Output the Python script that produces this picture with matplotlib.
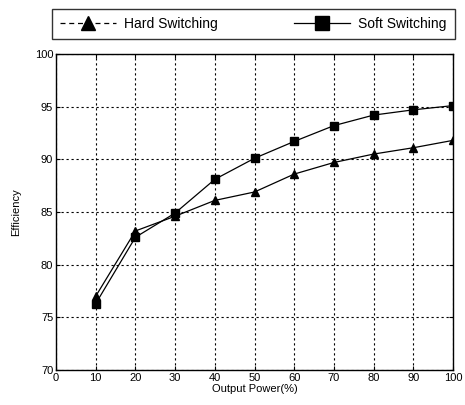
import matplotlib
matplotlib.use("Agg")
import matplotlib.pyplot as plt
from matplotlib.lines import Line2D

plt.rcParams['font.family'] = ['Liberation Sans', 'DejaVu Sans']

power = [10, 20, 30, 40, 50, 60, 70, 80, 90, 100]
hard = [77.0, 83.2, 84.6, 86.1, 86.9, 88.6, 89.7, 90.5, 91.1, 91.8]
soft = [76.3, 82.6, 84.9, 88.1, 90.1, 91.7, 93.2, 94.2, 94.7, 95.1]
xticks = [0, 10, 20, 30, 40, 50, 60, 70, 80, 90, 100]
yticks = [70, 75, 80, 85, 90, 95, 100]

fig = plt.figure(figsize=(4.65, 4.05), dpi=100)
ax = fig.add_axes([56/465, 1 - 370/405, (453-56)/465, (370-54)/405])

ax.plot(power, hard, color='black', lw=0.9, marker='^', markersize=6, zorder=3)
ax.plot(power, soft, color='black', lw=0.9, marker='s', markersize=5.5, zorder=3)

ax.set_xlim(0, 100)
ax.set_ylim(70, 100)
ax.set_xticks(xticks)
ax.set_yticks(yticks)
ax.tick_params(direction='in', top=True, right=True, labelsize=8, length=3, width=0.8, pad=2)
ax.grid(True, color='black', linestyle=(0, (2, 2.5)), linewidth=0.8)
for s in ax.spines.values():
    s.set_linewidth(1.0)
ax.set_xlabel('Output Power(%)', fontsize=8, labelpad=1)
ax.set_ylabel('Efficiency', fontsize=8, labelpad=10)

handles = [
    Line2D([], [], color='black', lw=0.9, linestyle=(0, (4, 3)), marker='^', markersize=10),
    Line2D([], [], color='black', lw=0.9, linestyle='-', marker='s', markersize=10),
]
leg = fig.legend(handles, ['Hard Switching', 'Soft Switching'], ncol=2,
                 loc='center', bbox_to_anchor=(52/465, 1 - 42/405, (455-52)/465, 36/405),
                 mode='expand', fontsize=10, frameon=True, fancybox=False,
                 edgecolor='black', handlelength=4, borderaxespad=0, columnspacing=3,
                 borderpad=0.6, handletextpad=0.6)
leg.get_frame().set_linewidth(1.0)

fig.savefig('out.png', dpi=100)
